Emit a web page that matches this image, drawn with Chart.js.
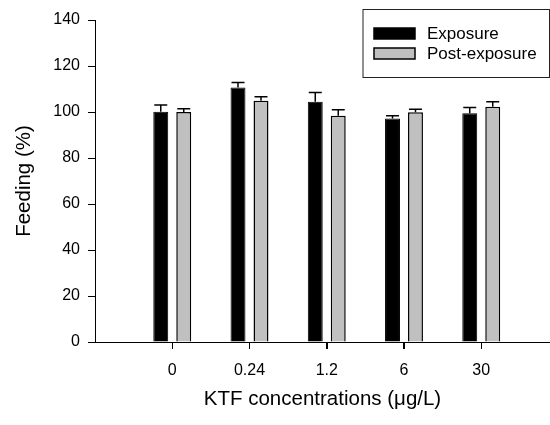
<!DOCTYPE html>
<html><head><meta charset="utf-8">
<script src="https://cdn.jsdelivr.net/npm/chart.js@4"></script>
<style>html,body{margin:0;padding:0;background:#fff;overflow:hidden}#wrap{width:550px;height:425px;position:relative}</style>
</head><body><div id="wrap"><canvas id="c" width="550" height="425"></canvas></div>
<script>
const categories = ['0', '0.24', '1.2', '6', '30'];
const exposure = [100.1, 110.6, 104.5, 97.2, 99.5];
const exposureErr = [2.9, 2.2, 4.0, 1.2, 2.5];
const postExposure = [100.0, 104.9, 98.4, 99.9, 102.3];
const postExposureErr = [1.4, 1.7, 2.6, 1.3, 2.2];
const yTicks = [0, 20, 40, 60, 80, 100, 120, 140];

const FONT = '"Liberation Sans", Arial, sans-serif';
Chart.defaults.color = '#000';
Chart.defaults.font.family = FONT;

const toPoints = (arr) => arr.map((v, i) => ({ x: i, y: v }));

const errorBars = {
  id: 'errorBars',
  afterDatasetsDraw(chart) {
    const ctx = chart.ctx;
    const yScale = chart.scales.y;
    chart.data.datasets.forEach((ds, di) => {
      const meta = chart.getDatasetMeta(di);
      meta.data.forEach((bar, i) => {
        const top = yScale.getPixelForValue(ds.data[i].y + ds.errors[i]);
        ctx.save();
        ctx.strokeStyle = '#000';
        ctx.lineWidth = 1.5;
        ctx.beginPath();
        ctx.moveTo(bar.x, bar.y);
        ctx.lineTo(bar.x, top);
        ctx.moveTo(bar.x - 6.5, top);
        ctx.lineTo(bar.x + 6.5, top);
        ctx.stroke();
        ctx.restore();
      });
    });
  }
};

const xTickMarks = {
  id: 'xTickMarks',
  afterDraw(chart) {
    const ctx = chart.ctx;
    const xs = chart.scales.x;
    const y0 = chart.chartArea.bottom;
    ctx.save();
    ctx.strokeStyle = '#000';
    ctx.lineWidth = 1;
    ctx.beginPath();
    for (let i = 0; i < xs.ticks.length; i++) {
      const px = Math.round(xs.getPixelForTick(i)) + 0.5;
      ctx.moveTo(px, y0);
      ctx.lineTo(px, y0 + 7);
    }
    ctx.stroke();
    ctx.restore();
  }
};

const legendBox = {
  id: 'legendBox',
  afterDraw(chart) {
    const ctx = chart.ctx;
    const a = chart.chartArea;
    const x0 = a.right - 187, y0 = 9.5, w = 186.5, h = 68;
    ctx.save();
    ctx.strokeStyle = '#222';
    ctx.lineWidth = 1;
    ctx.strokeRect(x0, y0, w, h);
    chart.data.datasets.forEach((ds, i) => {
      const sy = y0 + 18.5 + i * 20;
      ctx.fillStyle = ds.backgroundColor;
      ctx.fillRect(x0 + 11, sy, 41, 11);
      ctx.strokeStyle = '#000';
      ctx.lineWidth = 1.5;
      ctx.strokeRect(x0 + 11, sy, 41, 11);
      ctx.fillStyle = '#000';
      ctx.font = '17px ' + FONT;
      ctx.textBaseline = 'middle';
      ctx.textAlign = 'left';
      ctx.fillText(ds.label, x0 + 64, sy + 6);
    });
    ctx.restore();
  }
};

new Chart(document.getElementById('c'), {
  type: 'bar',
  data: {
    datasets: [
      { label: 'Exposure', data: toPoints(exposure), errors: exposureErr,
        backgroundColor: '#000000', borderColor: '#000000', borderWidth: 1,
        categoryPercentage: 0.595, barPercentage: 0.65 },
      { label: 'Post-exposure', data: toPoints(postExposure), errors: postExposureErr,
        backgroundColor: '#c0c0c0', borderColor: '#000000', borderWidth: 1.5,
        categoryPercentage: 0.595, barPercentage: 0.65 }
    ]
  },
  options: {
    responsive: false,
    animation: false,
    layout: { padding: { top: 20, right: 0, left: 0, bottom: 0 } },
    plugins: { legend: { display: false }, tooltip: { enabled: false } },
    scales: {
      x: {
        type: 'linear',
        offset: false,
        min: -1,
        max: 4.89,
        afterFit: (s) => { s.height = 83; },
        afterBuildTicks: (s) => {
          s.ticks = categories.map((c, i) => ({ value: i }));
        },
        ticks: {
          callback: (v) => categories[v] !== undefined ? categories[v] : '',
          font: { size: 16 },
          padding: 12,
          maxRotation: 0,
          autoSkip: false
        },
        grid: { display: true, offset: false, drawOnChartArea: false, drawTicks: true, tickLength: 7, color: '#000', lineWidth: 1 },
        border: { display: true, color: '#000', width: 1 },
        title: { display: true, text: 'KTF concentrations (μg/L)', font: { size: 20.5 }, padding: { top: 0, bottom: 13 } }
      },
      y: {
        min: 0,
        max: 140,
        afterFit: (s) => { s.width = 95; },
        afterBuildTicks: (s) => { s.ticks = yTicks.map(v => ({ value: v })); },
        ticks: { font: { size: 16 }, padding: 8 },
        grid: { display: true, drawOnChartArea: false, drawTicks: true, tickLength: 7, color: '#000', lineWidth: 1 },
        border: { display: true, color: '#000', width: 1 },
        title: { display: true, text: 'Feeding (%)', font: { size: 20.5 }, padding: { top: 12, bottom: 0 } }
      }
    }
  },
  plugins: [errorBars, xTickMarks, legendBox]
});
</script>
</body></html>
